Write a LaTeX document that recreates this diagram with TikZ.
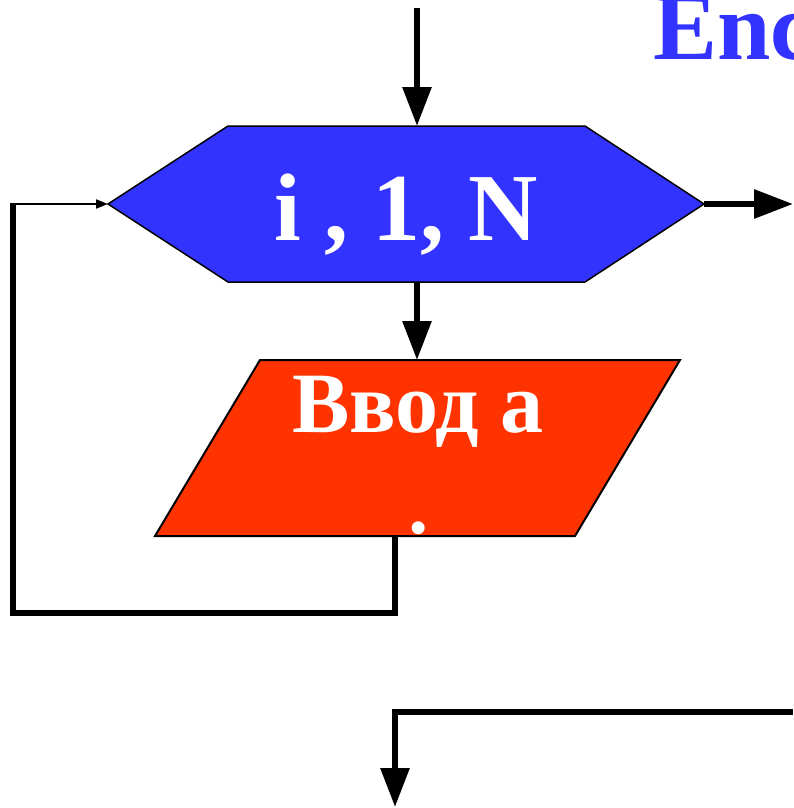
\documentclass[tikz,border=0pt]{standalone}
\usepackage{fontspec}
\setmainfont{Liberation Serif}
\usetikzlibrary{arrows.meta}
\definecolor{hexblue}{RGB}{51,51,255}
\definecolor{iored}{RGB}{255,51,0}
\begin{document}
\begin{tikzpicture}[x=1pt,y=-1pt,
  flow/.style={line width=6pt,line join=miter},
  bigtip/.style={-{Triangle[length=39pt,width=28pt]}},
  smalltip/.style={-{Triangle[length=12pt,width=9pt]}},
  bigtext/.style={font=\fontsize{96}{110}\selectfont\bfseries},
  midtext/.style={font=\fontsize{86}{100}\selectfont\bfseries},
  shapeline/.style={draw=black,line width=1.5pt}]
\useasboundingbox (0,0) rectangle (793,808);
\clip (0,0) rectangle (793,808);
% title fragment
\node[bigtext, text=hexblue, anchor=base west, inner sep=0pt] (title) at (653,59.5) {Enc};
% hexagon (loop header)
\coordinate (hL) at (108,204);
\coordinate (hR) at (704,204);
\coordinate (hT) at (417,126);
\coordinate (hB) at (417,282);
\filldraw[shapeline, fill=hexblue] (hL) -- (228,126) -- (585,126) -- (hR) -- (585,282) -- (228,282) -- cycle;
\node[bigtext, text=white, anchor=base, inner sep=0pt] (hextxt) at (406,240) {i , 1, N};
% parallelogram (input)
\coordinate (pT) at (417,360);
\coordinate (pB) at (395,536);
\filldraw[draw=black, line width=2pt, fill=iored] (260,360) -- (680,360) -- (575,536) -- (155,536) -- cycle;
\node[midtext, text=white, anchor=base, inner sep=0pt] (intxt) at (418,432) {Ввод а};
\node[midtext, text=white, anchor=base, inner sep=0pt] (inidx) at (418,581) {i};
% connectors
\coordinate (topin) at (417,8);
\coordinate (rightout) at (793,204);
\coordinate (lc1) at (13,613);
\coordinate (lc2) at (13,204);
\coordinate (botin) at (793,712);
\coordinate (botout) at (395,807);
\draw[flow, bigtip] (topin) -- (hT);
\draw[flow, bigtip] (hR) -- (rightout);
\draw[flow, bigtip] (hB) -- (pT);
\draw[line width=6pt, line join=miter] (pB) |- (lc1) -- ([yshift=1pt]lc2);
\draw[line width=2pt, smalltip] ([xshift=-1pt]lc2) -- (hL);
\draw[flow, bigtip] (botin) -| (botout);
\end{tikzpicture}
\end{document}
